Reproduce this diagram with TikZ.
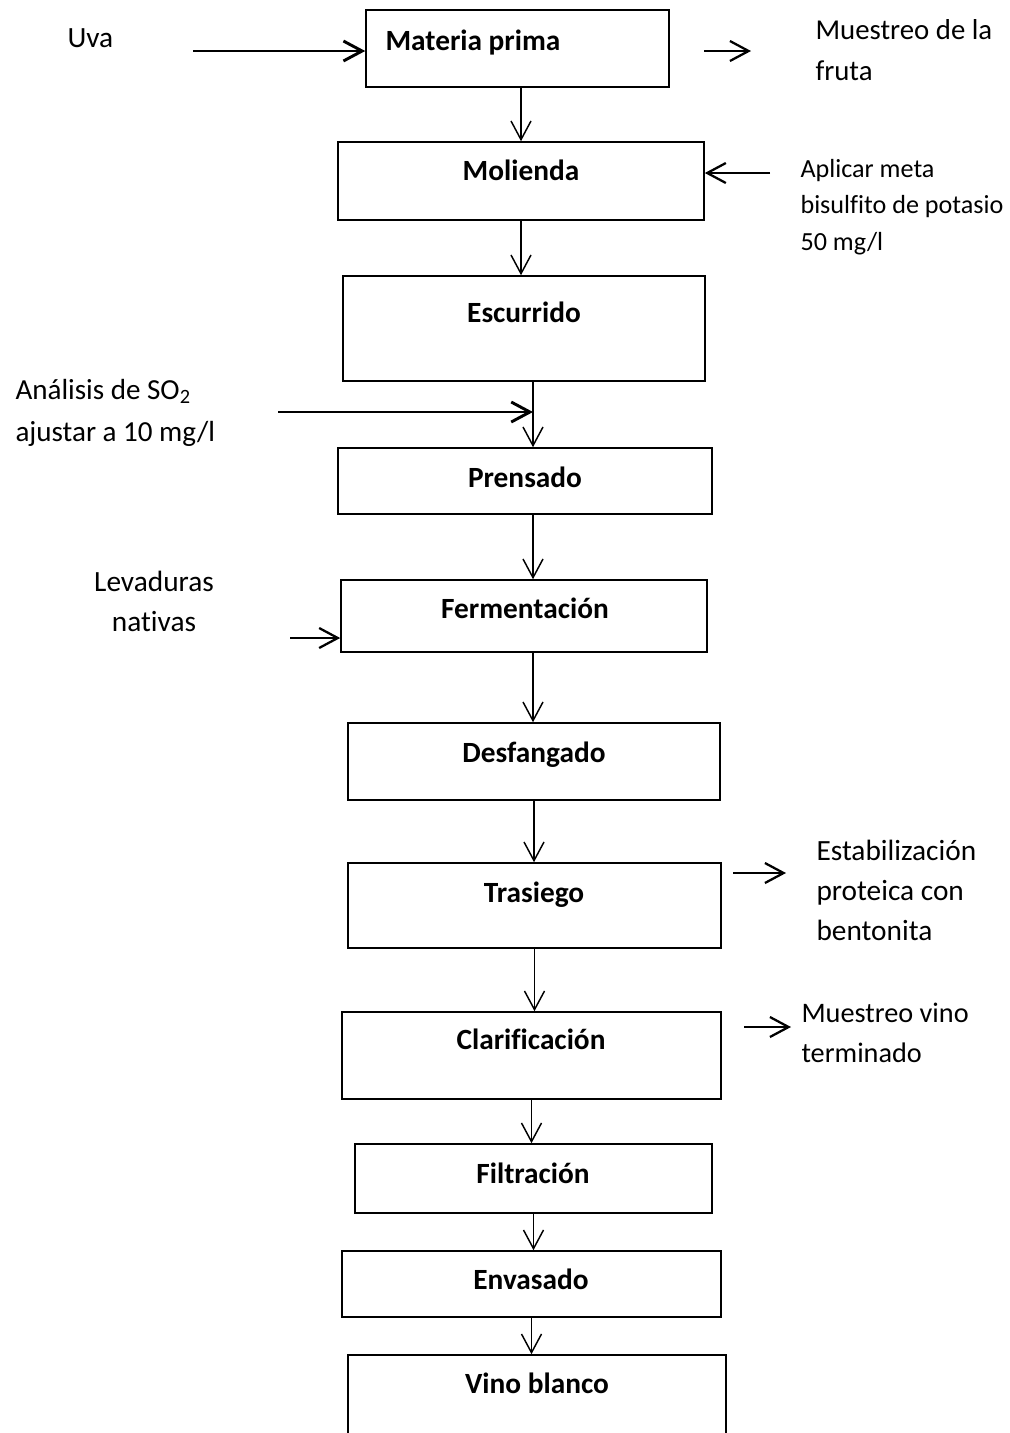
\documentclass[tikz,border=0pt]{standalone}
\usepackage{fontspec}
\setmainfont{Carlito}[Ligatures=CommonOff]
\usetikzlibrary{arrows.meta,fit,calc}
\begin{document}
\begin{tikzpicture}[x=0.375pt,y=-0.375pt,
  box/.style={draw, line width=0.6pt, inner sep=0pt},
  lbl/.style={font=\bfseries\fontsize{11}{13}\selectfont, anchor=base, inner sep=0pt},
  txt/.style={inner sep=0pt, align=left},
  arr/.style={-{Straight Barb[length=7pt,width=7.5pt]}, line width=0.55pt},
  marr/.style={-{Straight Barb[length=7pt,width=7.5pt]}, line width=0.85pt},
  thk/.style={-{Straight Barb[length=7pt,width=7.5pt]}, line width=1.1pt},
]
\useasboundingbox (0,0) rectangle (1010,1433);
\clip (0,0) rectangle (1010,1433);

% boxes
\node[box, fit={(366,10) (669,87)}] (mp) {};
\node[box, fit={(338,142) (704,220)}] (mol) {};
\node[box, fit={(343,276) (705,381)}] (esc) {};
\node[box, fit={(338,448) (712,514)}] (pre) {};
\node[box, fit={(341,580) (707,652)}] (fer) {};
\node[box, fit={(348,723) (720,800)}] (des) {};
\node[box, fit={(348,863) (721,948)}] (tra) {};
\node[box, fit={(342,1012) (721,1099)}] (cla) {};
\node[box, fit={(355,1144) (712,1213)}] (fil) {};
\node[box, fit={(342,1251) (721,1317)}] (env) {};
\node[box, fit={(348,1355) (726,1470)}] (vin) {};

% box labels
\node[lbl] (lmp) at (473,50) {Materia prima};
\node[lbl] (lmol) at (521,180) {Molienda};
\node[lbl] (lesc) at (524,322) {Escurrido};
\node[lbl] (lpre) at (525,487) {Prensado};
\node[lbl] (lfer) at (525,618) {Fermentación};
\node[lbl] (ldes) at (534,762) {Desfangado};
\node[lbl] (ltra) at (534,902) {Trasiego};
\node[lbl] (lcla) at (531,1049) {Clarificación};
\node[lbl] (lfil) at (533,1183) {Filtración};
\node[lbl] (lenv) at (531,1289) {Envasado};
\node[lbl] (lvin) at (537,1393) {Vino blanco};

% side texts
\node[txt, anchor=base west, font=\fontsize{11}{13}\selectfont] (uva) at (67,47) {Uva};
\node[txt, anchor=west, font=\fontsize{10.8}{15.4}\selectfont] (mf) at (815,50) {Muestreo de la\\fruta};
\node[txt, anchor=west, font=\fontsize{9.8}{13.7}\selectfont] (ap) at (800,207) {Aplicar meta\\bisulfito de potasio\\50 mg/l};
\node[txt, anchor=west, font=\fontsize{10.9}{15.75}\selectfont] (an) at (15,413) {Análisis de SO\textsubscript{2}\\ajustar a 10 mg/l};
\node[txt, align=center, font=\fontsize{11}{15}\selectfont] (lev) at (154,601) {Levaduras\\nativas};
\node[txt, anchor=west, font=\fontsize{11}{15}\selectfont] (est) at (816,890) {Estabilización\\proteica con\\bentonita};
\node[txt, anchor=west, font=\fontsize{10.6}{15}\selectfont] (mv) at (801,1033) {Muestreo vino\\terminado};

% main flow
\draw[arr] (mol.north |- mp.south) -- (mol.north);
\draw[arr] (mol.south) -- (mol.south |- esc.north);
\coordinate (j1) at (533,412);
\draw[arr] (j1 |- esc.south) -- (j1 |- pre.north);
\draw[arr] (j1 |- pre.south) -- (j1 |- fer.north);
\draw[arr] (j1 |- fer.south) -- (j1 |- des.north);
\draw[arr] (des.south) -- (des.south |- tra.north);
\draw[arr] (tra.south) -- (tra.south |- cla.north);
\draw[arr] (cla.south) -- (cla.south |- fil.north);
\draw[arr] (fil.south) -- (fil.south |- env.north);
\draw[arr] (env.south) -- (env.south |- vin.north);

% side arrows
\coordinate (uvaS) at (193,51);
\draw[thk] (uvaS) -- (uvaS -| mp.west);
\coordinate (mfS) at (704,51);
\coordinate (mfE) at (751,51);
\draw[marr] (mfS) -- (mfE);
\coordinate (apS) at (770,173);
\draw[marr] (apS) -- (apS -| mol.east);
\coordinate (anS) at (278,412);
\draw[thk] (anS) -- (j1);
\coordinate (levS) at (290,638);
\draw[marr] (levS) -- (levS -| fer.west);
\coordinate (tS) at (733,873);
\coordinate (tE) at (786,873);
\draw[marr] (tS) -- (tE);
\coordinate (cS) at (744,1027);
\coordinate (cE) at (791,1027);
\draw[marr] (cS) -- (cE);
\end{tikzpicture}
\end{document}
